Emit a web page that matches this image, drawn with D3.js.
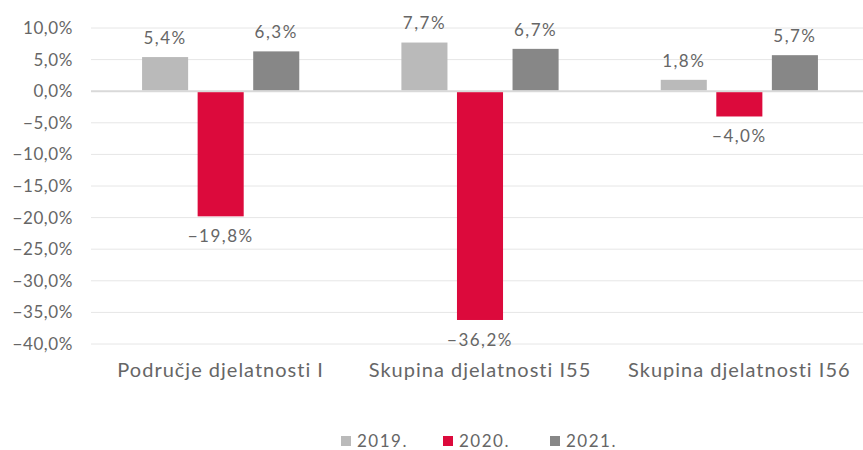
<!DOCTYPE html>
<html>
<head>
<meta charset="utf-8">
<script src="https://cdn.jsdelivr.net/npm/d3@7"></script>
<style>
  body { margin: 0; background: #fff; }
  svg { font-family: Lato, "Open Sans", sans-serif; }
</style>
</head>
<body>
<svg id="chart" width="863" height="450"></svg>
<script>
const categories = ['Područje djelatnosti I', 'Skupina djelatnosti I55', 'Skupina djelatnosti I56'];
const years = ['2019.', '2020.', '2021.'];
const values2019 = [5.4, 7.7, 1.8];
const values2020 = [-19.8, -36.2, -4.0];
const values2021 = [6.3, 6.7, 5.7];
const yTicks = [10, 5, 0, -5, -10, -15, -20, -25, -30, -35, -40];
const colors = ['#bababa', '#dc0a3c', '#878787'];

const series = [values2019, values2020, values2021];
const rows = categories.map((c, i) => ({
  cat: c,
  vals: years.map((y, j) => ({ year: y, idx: j, v: series[j][i] }))
}));

const locale = d3.formatLocale({ decimal: ',', thousands: '.', grouping: [3], currency: ['', ''], minus: '\u2212' });
const fmt = locale.format('.1f');
const pct = v => fmt(v) + '%';

const svg = d3.select('#chart');
const margin = { left: 91, right: -6, top: 28, bottom: 106 };
const W = 863, H = 450;

const x0 = d3.scaleBand().domain(categories)
  .range([margin.left, W - margin.right]).paddingInner(0).paddingOuter(0);
const x1 = d3.scaleBand().domain(years)
  .range([0, x0.bandwidth()]).paddingInner(0.171).paddingOuter(0.919);
const y = d3.scaleLinear().domain([-40, 10]).range([H - margin.bottom, margin.top]);

// grid
const gGrid = svg.append('g');
gGrid.selectAll('line').data(yTicks).enter().append('line')
  .attr('x1', margin.left).attr('x2', W)
  .attr('y1', d => y(d)).attr('y2', d => y(d))
  .attr('stroke', d => d === 0 ? '#d9d9d9' : '#e6e6e6')
  .attr('stroke-width', d => d === 0 ? 2 : 1);

// y axis labels
svg.append('g').selectAll('text').data(yTicks).enter().append('text')
  .attr('x', 73).attr('y', d => y(d)).attr('dy', '0.35em')
  .attr('text-anchor', 'end')
  .attr('font-size', 17).attr('letter-spacing', 0.6).attr('fill', '#666')
  .text(d => pct(d));

// bars
const groups = svg.append('g').selectAll('g').data(rows).enter().append('g')
  .attr('transform', d => `translate(${x0(d.cat)},0)`);

groups.selectAll('rect').data(d => d.vals).enter().append('rect')
  .attr('x', d => x1(d.year))
  .attr('width', x1.bandwidth())
  .attr('y', d => d.v >= 0 ? y(d.v) : y(0) + 1)
  .attr('height', d => Math.abs(y(d.v) - y(0)) - 1)
  .attr('fill', d => colors[d.idx]);

groups.selectAll('text').data(d => d.vals).enter().append('text')
  .attr('x', d => x1(d.year) + x1.bandwidth() / 2)
  .attr('y', d => d.v >= 0 ? y(d.v) - 19 : y(d.v) + 20)
  .attr('dy', '0.35em')
  .attr('text-anchor', 'middle')
  .attr('font-size', 17).attr('letter-spacing', 1.5).attr('fill', '#666')
  .text(d => pct(d.v));

// category labels
svg.append('g').selectAll('text').data(categories).enter().append('text')
  .attr('x', d => x0(d) + x0.bandwidth() / 2)
  .attr('y', 370).attr('dy', '0.35em')
  .attr('text-anchor', 'middle')
  .attr('font-size', 20).attr('letter-spacing', 1).attr('fill', '#666')
  .text(d => d);

// legend
const legendX = [341, 443, 550];
const lg = svg.append('g').selectAll('g').data(years).enter().append('g')
  .attr('transform', (d, i) => `translate(${legendX[i]},441)`);
lg.append('rect').attr('x', 0).attr('y', -5).attr('width', 10).attr('height', 10)
  .attr('fill', (d, i) => colors[i]);
lg.append('text').attr('x', 16).attr('y', 0).attr('dy', '0.35em')
  .attr('font-size', 17).attr('letter-spacing', 1.5).attr('fill', '#666')
  .text(d => d);
</script>
</body>
</html>
